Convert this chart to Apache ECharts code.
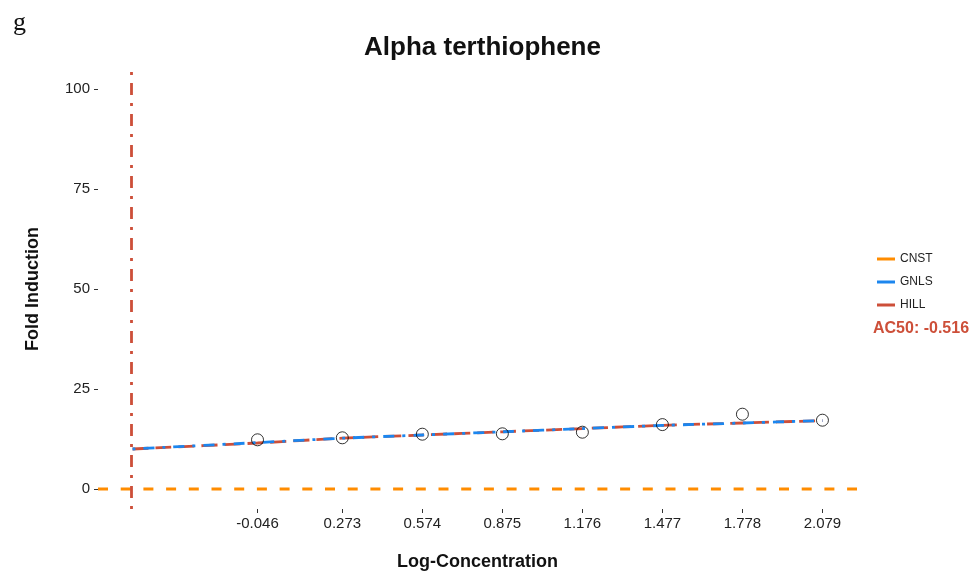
<!DOCTYPE html>
<html>
<head>
<meta charset="utf-8">
<title>Alpha terthiophene</title>
<script src="https://cdn.jsdelivr.net/npm/echarts@6/dist/echarts.min.js"></script>
<style>
  html, body { margin: 0; padding: 0; background: #ffffff; }
  #chart { width: 976px; height: 576px; }
</style>
</head>
<body>
<div id="chart"></div>
<script>
// Measured concentrations (log10) and fold induction responses
var logConc = [-0.046, 0.273, 0.574, 0.875, 1.176, 1.477, 1.778, 2.079];
var response = [12.3, 12.8, 13.7, 13.8, 14.2, 16.1, 18.7, 17.2];

// Fitted model curves, sampled from the AC50 up to the top concentration
var fitConc = [-0.516, -0.046, 0.273, 0.574, 0.875, 1.176, 1.477, 1.778, 2.079];
var hillFit = [10.0, 11.5, 12.7, 13.5, 14.3, 15.1, 15.9, 16.5, 17.1];
var gnlsFit = [10.0, 11.6, 12.7, 13.5, 14.3, 15.1, 15.9, 16.5, 17.1];

// Constant model spans the full x range
var cnstConc = [-0.646, 2.209];
var cnstFit = [0, 0];

var ac50 = -0.516;
var xTicks = logConc;
var yTicks = [0, 25, 50, 75, 100];

var FONT = 'Liberation Sans, Arial, Helvetica, sans-serif';
var RED = '#CD4F39';
var BLUE = '#1C86EE';
var ORANGE = '#FF8C00';

function pairs(xs, ys) {
  return xs.map(function (x, i) { return [x, ys[i]]; });
}

var chart = echarts.init(document.getElementById('chart'), null, { renderer: 'canvas' });

chart.setOption({
  animation: false,
  backgroundColor: '#ffffff',
  title: {
    text: 'Alpha terthiophene',
    left: 477.5,
    top: 30,
    textAlign: 'center',
    textStyle: { fontFamily: FONT, fontSize: 26, fontWeight: 'bold', color: '#111' }
  },
  graphic: [
    {
      type: 'text', left: 13, top: 10,
      style: { text: 'g', font: '26px "Liberation Serif", "DejaVu Serif", serif', fill: '#111' }
    },
    {
      type: 'text', left: 873, top: 321,
      style: { text: 'AC50: -0.516', font: 'bold 16px ' + FONT, fill: RED }
    }
  ],
  legend: {
    orient: 'vertical',
    left: 872,
    top: 247,
    itemWidth: 18,
    itemHeight: 3,
    itemGap: 9,
    icon: 'rect',
    data: ['CNST', 'GNLS', 'HILL'],
    textStyle: { fontFamily: FONT, fontSize: 12, color: '#222', lineHeight: 14 }
  },
  grid: { left: 98, right: 119, top: 69, bottom: 67, containLabel: false },
  xAxis: {
    type: 'value',
    min: -0.646,
    max: 2.209,
    name: 'Log-Concentration',
    nameLocation: 'middle',
    nameGap: 44,
    nameTextStyle: { fontFamily: FONT, fontSize: 18, fontWeight: 'bold', color: '#111' },
    axisLine: { show: false, onZero: false },
    splitLine: { show: false },
    axisTick: { show: true, customValues: xTicks, length: 4, lineStyle: { color: '#333', width: 1 } },
    axisLabel: {
      customValues: xTicks,
      margin: 7,
      fontFamily: FONT, fontSize: 15, color: '#222',
      formatter: function (v) { return v.toFixed(3); }
    }
  },
  yAxis: {
    type: 'value',
    min: -5,
    max: 105,
    name: 'Fold Induction',
    nameLocation: 'middle',
    nameGap: 56,
    nameTextStyle: { fontFamily: FONT, fontSize: 18, fontWeight: 'bold', color: '#111' },
    axisLine: { show: false, onZero: false },
    splitLine: { show: false },
    axisTick: { show: true, customValues: yTicks, length: 4, lineStyle: { color: '#333', width: 1 } },
    axisLabel: {
      customValues: yTicks,
      margin: 8,
      fontFamily: FONT, fontSize: 15, color: '#222'
    }
  },
  series: [
    {
      name: 'CNST',
      type: 'line',
      data: pairs(cnstConc, cnstFit),
      showSymbol: false,
      symbol: 'none',
      itemStyle: { color: ORANGE },
      lineStyle: { color: ORANGE, width: 2.8, type: [10, 12.7] },
      z: 2
    },
    {
      name: 'HILL',
      type: 'line',
      data: pairs(fitConc, hillFit),
      smooth: 0.3,
      showSymbol: false,
      symbol: 'none',
      itemStyle: { color: RED },
      lineStyle: { color: RED, width: 2.8, type: [16, 7] },
      z: 3,
      markLine: {
        silent: true,
        symbol: 'none',
        label: { show: false },
        lineStyle: { color: RED, width: 2.8, type: [3, 8, 12, 8] },
        data: [{ xAxis: ac50 }]
      }
    },
    {
      name: 'GNLS',
      type: 'line',
      data: pairs(fitConc, gnlsFit),
      smooth: 0.3,
      showSymbol: false,
      symbol: 'none',
      itemStyle: { color: BLUE },
      lineStyle: { color: BLUE, width: 2.8, type: [3, 8, 11, 8] },
      z: 4
    },
    {
      name: 'Response',
      type: 'scatter',
      data: pairs(logConc, response),
      symbol: 'circle',
      symbolSize: 12,
      itemStyle: { color: 'rgba(0,0,0,0)', borderColor: '#000', borderWidth: 1 },
      z: 5
    }
  ]
});
</script>
</body>
</html>
